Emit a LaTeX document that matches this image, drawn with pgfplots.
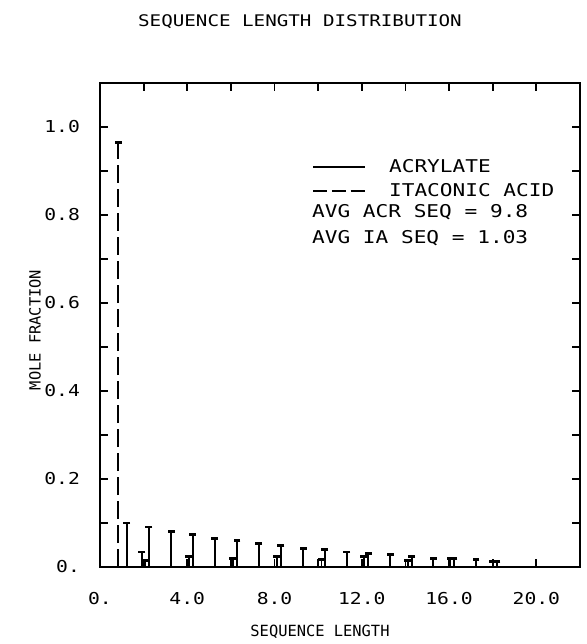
\documentclass[border=0pt]{standalone}
\usepackage{pgfplots}
\pgfplotsset{compat=1.18}
\usepackage{fontspec}
\setmainfont[FakeStretch=1.2]{DejaVu Sans Mono}
\newfontfamily\labelfont{DejaVu Sans Mono}

\pgfplotsset{
  legline/.style={legend image code/.code={\draw[##1,mark=none] (0pt,0pt) -- (25.8pt,0pt);}},
  legdash/.style={legend image code/.code={\draw[##1,mark=none,dash pattern=on 7pt off 2.4pt] (0pt,0pt) -- (25.8pt,0pt);}},
}

% sequence lengths (bars are drawn slightly offset)
\pgfplotstableread{
x     y
1.22  0.100
2.24  0.091
3.26  0.080
4.24  0.073
5.26  0.064
6.28  0.060
7.27  0.054
8.29  0.048
9.31  0.042
10.30 0.039
11.31 0.034
12.30 0.031
13.30 0.028
14.29 0.024
15.27 0.020
16.22 0.020
17.23 0.017
18.20 0.013
}\acrylate

\pgfplotstableread{
x     y
0.83  0.964
1.92  0.034
2.05  0.015
4.08  0.024
6.09  0.019
8.10  0.024
10.15 0.017
12.10 0.023
14.10 0.015
16.05 0.020
18.00 0.013
}\itaconic

\begin{document}
\begin{tikzpicture}
\useasboundingbox (-50pt,-38.5pt) rectangle (243pt,283.5pt);
\begin{axis}[
    at={(0pt,0pt)}, anchor=south west,
    scale only axis, width=240pt, height=242pt,
    xmin=0, xmax=22, ymin=0, ymax=1.1,
    xtick={0,4,8,12,16,20},
    xticklabels={0.,4.0,8.0,12.0,16.0,20.0},
    minor xtick={2,6,10,14,18},
    ytick={0,0.2,0.4,0.6,0.8,1.0},
    yticklabels={0.,0.2,0.4,0.6,0.8,1.0},
    minor ytick={0.1,0.3,0.5,0.7,0.9},
    tick align=inside, tick pos=both,
    major tick length=4pt, minor tick length=4pt,
    every tick/.style={black, line width=0.9pt},
    axis line style={line width=0.9pt},
    ticklabel style={font=\fontsize{8.2}{10}\selectfont},
    yticklabel style={xshift=-6.5pt},
    xticklabel style={yshift=-9pt},
    legend style={at={(0.441,0.8435)}, anchor=north west, draw=none, fill=none,
      inner sep=0pt, row sep=4pt, column sep=11.7pt,
      nodes={inner sep=0pt, font=\fontsize{8.8}{10}\selectfont}},
    legend cell align=left,
  ]
  \addplot[ycomb, legline, black, line width=1pt, mark=-, mark size=1.7pt,
    mark options={solid, line width=1.4pt}] table {\acrylate};
  \addlegendentry{ACRYLATE}
  \addplot[ycomb, legdash, black, line width=0.9pt, dash pattern=on 9pt off 3pt,
    mark=-, mark size=1.8pt, mark options={solid, line width=1.4pt}] table {\itaconic};
  \addlegendentry{ITACONIC ACID}
  \node[anchor=west, inner sep=0pt, font=\fontsize{8.8}{10}\selectfont]
    at (rel axis cs:0.441,0.734) {AVG ACR SEQ = 9.8};
  \node[anchor=west, inner sep=0pt, font=\fontsize{8.8}{10}\selectfont]
    at (rel axis cs:0.441,0.680) {AVG IA SEQ = 1.03};
\end{axis}
\node[font=\fontsize{8.0}{10}\selectfont] at (100pt,272.5pt) {SEQUENCE LENGTH DISTRIBUTION};
\node[font=\labelfont\fontsize{7.7}{9}\selectfont] at (110pt,-32.5pt) {SEQUENCE LENGTH};
\node[font=\labelfont\fontsize{7.7}{9}\selectfont, rotate=90] at (-32.5pt,118.5pt) {MOLE FRACTION};
\end{tikzpicture}
\end{document}
